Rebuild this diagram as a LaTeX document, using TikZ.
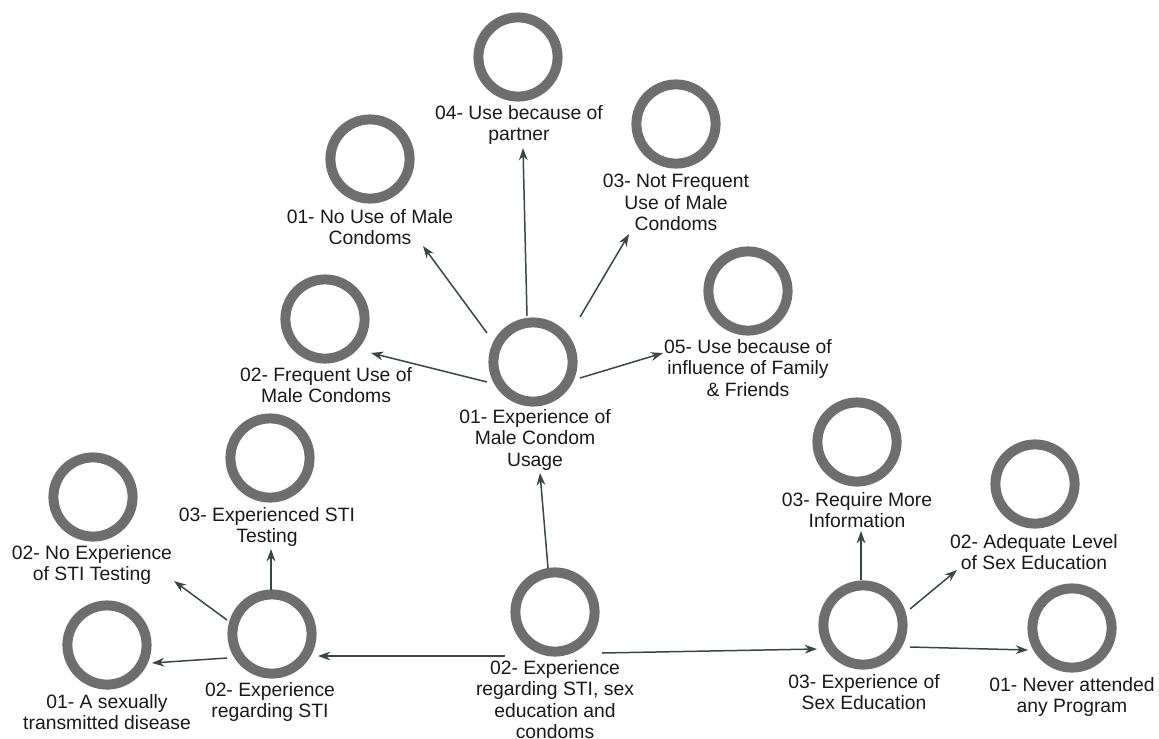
\documentclass[tikz,border=0pt]{standalone}
\usepackage{fontspec}
\setmainfont{Liberation Sans}
\usetikzlibrary{arrows.meta,calc}
\definecolor{ring}{RGB}{110,110,110}
\definecolor{arr}{RGB}{60,68,68}
\definecolor{txt}{RGB}{25,25,25}
\begin{document}
\begin{tikzpicture}[x=0.02cm,y=-0.02cm,
  ringnode/.style={circle,draw=ring,line width=5.67pt,minimum size=1.584cm,inner sep=0pt},
  lbl/.style={anchor=north,align=center,inner sep=0pt,text=txt,font=\fontsize{11}{12.2}\selectfont},
  conn/.style={draw=arr,line width=0.85pt,-{Stealth[length=7pt,width=5pt]}}]
\useasboundingbox[fill=white] (0,0) rectangle (1159,738);

% circles
\node[ringnode] (m) at (533,362) {};
\node[ringnode] (b) at (555,612) {};
\node[ringnode] (stis) at (272,634) {};
\node[ringnode] (sexd) at (107,645) {};
\node[ringnode] (se) at (863,625) {};
\node[ringnode] (never) at (1072,628) {};
\node[ringnode] (partner) at (518,57) {};
\node[ringnode] (nouse) at (370,159) {};
\node[ringnode] (notfreq) at (676,124) {};
\node[ringnode] (family) at (748,291) {};
\node[ringnode] (freq) at (325,319) {};
\node[ringnode] (expsti) at (270,458) {};
\node[ringnode] (noexp) at (93,497) {};
\node[ringnode] (reqmore) at (857,442) {};
\node[ringnode] (adequate) at (1035,484) {};

% labels
\node[lbl] (mL) at (535,409) {01- Experience of\\Male Condom\\Usage};
\node[lbl] (bL) at (555,660) {02- Experience\\regarding STI, sex\\education and\\condoms};
\node[lbl] (stisL) at (270,682) {02- Experience\\regarding STI};
\node[lbl] (sexdL) at (107,694) {01- A sexually\\transmitted disease};
\node[lbl] (seL) at (864,674) {03- Experience of\\Sex Education};
\node[lbl] (neverL) at (1072,677) {01- Never attended\\any Program};
\node[lbl] (partnerL) at (519,105) {04- Use because of\\partner};
\node[lbl] (nouseL) at (370,209) {01- No Use of Male\\Condoms};
\node[lbl] (notfreqL) at (676,174) {03- Not Frequent\\Use of Male\\Condoms};
\node[lbl] (familyL) at (748,339) {05- Use because of\\influence of Family\\\& Friends};
\node[lbl] (freqL) at (326,367) {02- Frequent Use of\\Male Condoms};
\node[lbl] (expstiL) at (267,507) {03- Experienced STI\\Testing};
\node[lbl] (noexpL) at (92,545) {02- No Experience\\of STI Testing};
\node[lbl] (reqmoreL) at (857,492) {03- Require More\\Information};
\node[lbl] (adequateL) at (1034,534) {02- Adequate Level\\of Sex Education};

% connectors from main
\draw[conn] ($(m)+(-6,-46)$) -- ($(partner)+(5,91)$);
\draw[conn] ($(m)+(-46,-29)$) -- ($(nouse)+(53,87)$);
\draw[conn] ($(m)+(47,-45)$) -- ($(notfreq)+(-47,110)$);
\draw[conn] ($(m)+(-46,20)$) -- ($(freq)+(46,34)$);
\draw[conn] ($(m)+(47,16)$) -- ($(family)+(-85,62)$);

% connectors from bottom centre
\draw[conn] ($(b)+(-7,-44)$) -- ($(m)+(7,111)$);
\draw[conn] ($(b)+(-50,44)$) -- ($(stis)+(46,22)$);
\draw[conn] ($(b)+(47,41)$) -- ($(se)+(-46,24)$);

% connectors from STI
\draw[conn] ($(stis)+(-45,24)$) -- ($(sexd)+(45,18)$);
\draw[conn] ($(stis)+(-45,-14)$) -- ($(noexp)+(81,84)$);
\draw[conn] ($(stis)+(-1,-44)$) -- ($(expsti)+(1,91)$);

% connectors from sex education
\draw[conn] ($(se)+(-2,-45)$) -- ($(reqmore)+(4,89)$);
\draw[conn] ($(se)+(47,-16)$) -- ($(adequate)+(-78,86)$);
\draw[conn] ($(se)+(47,22)$) -- ($(never)+(-44,22)$);
\end{tikzpicture}
\end{document}
